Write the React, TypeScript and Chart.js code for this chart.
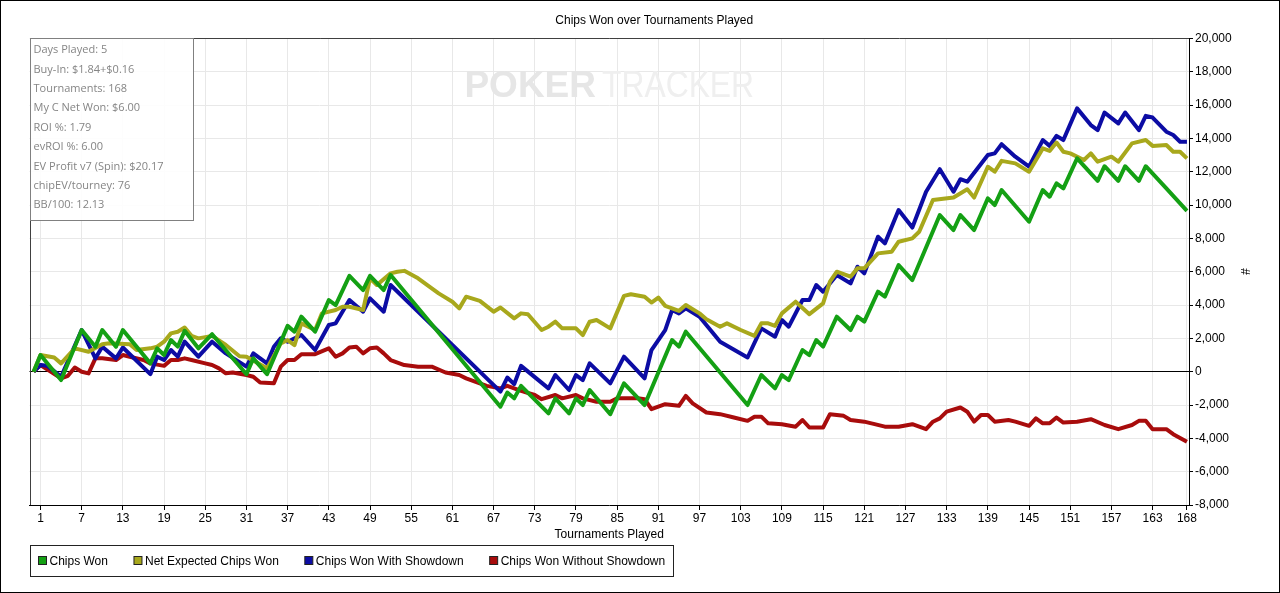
import { useEffect, useRef } from "react";
import { Chart, registerables } from "chart.js";

Chart.register(...registerables);

// turning points of each series: [tournament, chips]
const chipsWon: [number, number][] = [
  [0, 0], [1, 1000], [4, -500], [7, 2500], [9, 1500], [10, 2500], [12, 1500], [13, 2500], [17, 500], [18, 1400],
  [19, 1000], [20, 1900], [21, 1500], [22, 2450], [24, 1400], [26, 2250], [31, -150], [32, 800], [34, -150], [37, 2750],
  [38, 2400], [39, 3300], [41, 2400], [43, 4300], [44, 4000], [46, 5750], [48, 4900], [49, 5750], [51, 4900], [52, 5800],
  [68, -2100], [69, -1250], [70, -1600], [71, -850], [75, -2500], [76, -1600], [78, -2500], [79, -1600], [80, -2000], [81, -1100],
  [84, -2550], [86, -700], [89, -2000], [93, 1900], [94, 1500], [95, 2400], [104, -2000], [106, -200], [108, -1000], [109, -200],
  [110, -500], [112, 1300], [113, 1000], [114, 1900], [115, 1500], [117, 3300], [119, 2500], [120, 3300], [121, 3000], [123, 4800],
  [124, 4500], [126, 6400], [128, 5500], [132, 9400], [134, 8500], [135, 9400], [137, 8500], [139, 10400], [140, 10000], [141, 10900],
  [145, 9000], [147, 10900], [148, 10500], [149, 11300], [150, 11000], [152, 12800], [155, 11450], [156, 12330], [158, 11450], [159, 12330],
  [161, 11450], [162, 12330], [165, 11000], [168, 9650],
];

const netExpected: [number, number][] = [
  [0, 0], [1, 1000], [3, 850], [4, 500], [6, 1400], [8, 1200], [10, 1650], [11, 1700], [14, 1650], [15, 1300],
  [17, 1400], [18, 1500], [19, 1800], [20, 2300], [21, 2400], [22, 2650], [23, 2150], [24, 2000], [26, 2150], [28, 1600],
  [30, 930], [31, 900], [34, 200], [36, 1700], [37, 1900], [38, 1600], [39, 2900], [41, 2500], [42, 3500], [44, 3700],
  [45, 3900], [46, 3900], [48, 3700], [49, 5600], [50, 5200], [52, 5900], [53, 6000], [54, 6050], [56, 5600], [58, 5000],
  [59, 4700], [61, 4200], [62, 3800], [63, 4500], [65, 4250], [67, 3600], [68, 3850], [70, 3200], [71, 3500], [72, 3450],
  [74, 2500], [75, 2700], [76, 3000], [77, 2600], [79, 2600], [80, 2200], [81, 3000], [82, 3100], [84, 2600], [86, 4550],
  [87, 4650], [89, 4500], [90, 4150], [91, 4450], [92, 3950], [94, 3650], [95, 4000], [97, 3500], [98, 3150], [100, 2700],
  [101, 2900], [103, 2500], [105, 2150], [106, 2900], [107, 2900], [108, 2750], [109, 3500], [111, 4200], [113, 3450], [115, 4100],
  [116, 5400], [117, 6000], [119, 5700], [120, 6200], [121, 6200], [123, 7100], [125, 7200], [126, 7800], [128, 8000], [129, 8400],
  [131, 10300], [134, 10450], [136, 10950], [137, 10450], [139, 12300], [140, 12000], [141, 12650], [143, 12500], [145, 12000], [147, 13400],
  [148, 13250], [149, 13750], [150, 13200], [151, 13100], [153, 12700], [154, 13100], [155, 12600], [157, 12900], [158, 12600], [160, 13700],
  [162, 13900], [163, 13550], [165, 13600], [166, 13200], [167, 13200], [168, 12800],
];

const withShowdown: [number, number][] = [
  [0, 0], [1, 400], [2, 350], [4, -300], [7, 2500], [9, 800], [10, 1500], [12, 800], [13, 1450], [17, -150],
  [18, 900], [19, 700], [20, 1300], [21, 900], [22, 1800], [24, 900], [26, 1800], [28, 1100], [31, 300], [32, 1100],
  [34, 500], [35, 1500], [36, 2000], [37, 1800], [39, 2200], [41, 1300], [43, 2800], [44, 2900], [46, 4300], [48, 3600],
  [49, 4400], [51, 3600], [52, 5200], [68, -1200], [69, -350], [70, -750], [71, 350], [75, -1000], [76, -200], [78, -1100],
  [79, -200], [80, -500], [81, 500], [84, -700], [86, 900], [89, -400], [90, 1300], [92, 2500], [93, 3700], [94, 3500],
  [95, 3800], [97, 3300], [100, 1800], [104, 850], [106, 2600], [108, 2100], [109, 3100], [110, 2700], [112, 4300], [113, 4300],
  [114, 5200], [115, 4800], [117, 5800], [119, 5300], [120, 6300], [121, 5900], [123, 8100], [124, 7700], [126, 9700], [128, 8650],
  [130, 10800], [132, 12150], [134, 10800], [135, 11550], [136, 11400], [139, 13000], [140, 13100], [141, 13650], [143, 12900], [145, 12300],
  [147, 13900], [148, 13550], [149, 14150], [150, 13900], [152, 15800], [154, 14800], [155, 14500], [156, 15550], [158, 14900], [159, 15550],
  [161, 14500], [162, 15350], [163, 15250], [165, 14400], [166, 14200], [167, 13800], [168, 13800],
];

const withoutShowdown: [number, number][] = [
  [0, 0], [1, 400], [4, -400], [5, -250], [6, 250], [7, 0], [8, -100], [9, 800], [10, 800], [12, 700],
  [13, 1000], [14, 900], [16, 700], [17, 500], [19, 350], [20, 700], [21, 700], [22, 800], [23, 700], [25, 500],
  [26, 400], [27, 200], [28, -100], [29, -50], [31, -200], [32, -300], [33, -650], [35, -700], [36, 300], [37, 700],
  [38, 700], [39, 1050], [41, 1050], [43, 1400], [44, 900], [45, 1100], [46, 1450], [47, 1500], [48, 1100], [49, 1400],
  [50, 1450], [51, 1100], [52, 700], [54, 400], [56, 300], [58, 300], [60, -50], [62, -200], [63, -400], [65, -700],
  [66, -850], [68, -1000], [69, -850], [70, -1000], [71, -1150], [73, -1400], [74, -1650], [76, -1400], [77, -1600], [79, -1400],
  [80, -1600], [82, -1800], [84, -1800], [85, -1600], [87, -1600], [88, -1600], [89, -1650], [90, -2250], [92, -1950], [94, -2050],
  [95, -1450], [96, -1900], [98, -2450], [100, -2550], [102, -2750], [104, -2950], [105, -2700], [106, -2700], [107, -3100], [109, -3150],
  [111, -3300], [112, -2900], [113, -3350], [115, -3350], [116, -2550], [118, -2650], [119, -2900], [121, -3000], [124, -3300], [126, -3300],
  [128, -3150], [130, -3450], [131, -3000], [132, -2800], [133, -2400], [135, -2150], [136, -2400], [137, -3000], [138, -2600], [139, -2600],
  [140, -3000], [142, -2900], [143, -3000], [145, -3250], [146, -2800], [147, -3100], [148, -3100], [149, -2750], [150, -3050], [152, -3000],
  [154, -2850], [156, -3200], [158, -3450], [160, -3200], [161, -2950], [162, -2950], [163, -3450], [165, -3450], [166, -3750], [168, -4200],
];

const seriesLabels = ["Chips Won", "Net Expected Chips Won", "Chips Won With Showdown", "Chips Won Without Showdown"];
const seriesColors = ["#14a014", "#a8a81c", "#0c0ca4", "#a80c0c"];

const xTicks = [1, 7, 13, 19, 25, 31, 37, 43, 49, 55, 61, 67, 73, 79, 85, 91, 97, 103, 109, 115, 121, 127, 133, 139, 145, 151, 157, 163, 168];

const statsLines = [
  "Days Played: 5",
  "Buy-In: $1.84+$0.16",
  "Tournaments: 168",
  "My C Net Won: $6.00",
  "ROI %: 1.79",
  "evROI %: 6.00",
  "EV Profit v7 (Spin): $20.17",
  "chipEV/tourney: 76",
  "BB/100: 12.13",
];

const FONT = "'Liberation Sans', Arial, sans-serif";

const decorPlugin = {
  id: "decor",
  beforeDatasetsDraw(chart: Chart) {
    const { ctx, chartArea } = chart;
    const { left, top, right, bottom } = chartArea;
    ctx.save();
    // watermark
    const cx = (left + right) / 2;
    ctx.textBaseline = "middle";
    ctx.textAlign = "left";
    ctx.font = `bold 37px ${FONT}`;
    const w1 = ctx.measureText("POKER").width;
    ctx.font = `37px ${FONT}`;
    const squeeze = 0.86;
    const w2 = ctx.measureText("TRACKER").width * squeeze;
    const start = cx - (w1 + 6 + w2) / 2;
    const wy = top + 48;
    ctx.font = `bold 37px ${FONT}`;
    ctx.fillStyle = "#e6e6e6";
    ctx.fillText("POKER", start, wy);
    ctx.font = `37px ${FONT}`;
    ctx.fillStyle = "#efefef";
    ctx.save();
    ctx.translate(start + w1 + 6, wy);
    ctx.scale(squeeze, 1);
    ctx.fillText("TRACKER", 0, 0);
    ctx.restore();
    // plot frame top / left
    ctx.strokeStyle = "#404040";
    ctx.lineWidth = 1;
    ctx.beginPath();
    ctx.moveTo(Math.round(left) + 0.5, Math.round(bottom));
    ctx.lineTo(Math.round(left) + 0.5, Math.round(top) + 0.5);
    ctx.lineTo(Math.round(right), Math.round(top) + 0.5);
    ctx.stroke();
    ctx.restore();
  },
  afterDraw(chart: Chart) {
    const { ctx, chartArea } = chart;
    const { left, top } = chartArea;
    ctx.save();
    // stats box
    const bx = Math.round(left) + 0.5;
    const by = Math.round(top) + 0.5;
    ctx.fillStyle = "rgba(255,255,255,0.9)";
    ctx.fillRect(bx, by, 163, 182);
    ctx.strokeStyle = "#808080";
    ctx.lineWidth = 1;
    ctx.strokeRect(bx, by, 163, 182);
    ctx.fillStyle = "#858585";
    ctx.font = "11px 'Open Sans', sans-serif";
    ctx.textAlign = "left";
    ctx.textBaseline = "middle";
    statsLines.forEach((line, i) => {
      ctx.fillText(line, bx + 3, by + 11.5 + i * 19.4);
    });

    // legend
    ctx.font = `12px ${FONT}`;
    const ly = Math.round(chart.height - 47) + 0.5;
    const cy = ly + 15;
    let x = bx + 8;
    seriesLabels.forEach((label, i) => {
      ctx.fillStyle = seriesColors[i];
      ctx.fillRect(x, cy - 4, 8, 8);
      ctx.strokeStyle = "#222";
      ctx.strokeRect(x, cy - 4, 8, 8);
      ctx.fillStyle = "#000";
      ctx.fillText(label, x + 11, cy + 1);
      x += 11 + ctx.measureText(label).width + (i < seriesLabels.length - 1 ? 26 : 8);
    });
    ctx.strokeStyle = "#222";
    ctx.strokeRect(bx, ly, Math.round(x - bx), 31);
    ctx.restore();
  },
};

function ChipsChart() {
  const chartRef = useRef<HTMLCanvasElement>(null);
  const chartInstance = useRef<Chart | null>(null);

  useEffect(() => {
    document.body.style.margin = "0";
    if (!chartRef.current) return;
    if (chartInstance.current) chartInstance.current.destroy();

    const series = [chipsWon, netExpected, withShowdown, withoutShowdown];

    chartInstance.current = new Chart(chartRef.current, {
      type: "line",
      data: {
        datasets: series.map((pts, i) => ({
          label: seriesLabels[i],
          data: pts.map(([x, y]) => ({ x, y })),
          borderColor: seriesColors[i],
          backgroundColor: seriesColors[i],
          borderWidth: 4,
          pointRadius: 0,
          tension: 0,
          borderJoinStyle: "round" as const,
          fill: false,
        })),
      },
      options: {
        animation: false,
        responsive: true,
        maintainAspectRatio: false,
        layout: { padding: { left: 28.5, top: 0, right: 0, bottom: 47 } },
        plugins: {
          legend: { display: false },
          tooltip: { enabled: false },
          title: {
            display: true,
            text: "Chips Won over Tournaments Played",
            color: "#000",
            font: { family: FONT, size: 12, weight: "normal" },
            padding: { top: 12, bottom: 11 },
          },
        },
        scales: {
          x: {
            type: "linear",
            min: -0.6,
            max: 168.3,
            afterBuildTicks: (scale: any) => {
              scale.ticks = xTicks.map((v) => ({ value: v }));
            },
            afterFit: (scale: any) => {
              scale.height = 40;
            },
            ticks: {
              autoSkip: false,
              maxRotation: 0,
              color: "#000",
              padding: 1,
              font: { family: FONT, size: 12 },
            },
            grid: { color: "#e8e8e8", tickColor: "#000", tickLength: 5 },
            border: { color: "#000" },
            title: {
              display: true,
              text: "Tournaments Played",
              color: "#000",
              font: { family: FONT, size: 12 },
              padding: { top: 0, bottom: 3 },
            },
          },
          y: {
            position: "right",
            min: -8000,
            max: 20000,
            afterFit: (scale: any) => {
              scale.width = 90;
            },
            ticks: {
              stepSize: 2000,
              color: "#000",
              padding: 2,
              font: { family: FONT, size: 12 },
              callback: (v: any) => Number(v).toLocaleString("en-US"),
            },
            grid: {
              color: (c: any) => (c.tick && c.tick.value === 0 ? "#000" : "#e8e8e8"),
              tickColor: "#000",
              tickLength: 4,
            },
            border: { color: "#000" },
            title: {
              display: true,
              text: "#",
              color: "#000",
              font: { family: FONT, size: 12 },
              padding: { top: 27, bottom: 0 },
            },
          },
        },
      },
      plugins: [decorPlugin],
    });

    return () => {
      if (chartInstance.current) {
        chartInstance.current.destroy();
        chartInstance.current = null;
      }
    };
  }, []);

  return (
    <div style={{ width: 1280, height: 593, border: "1px solid #000", boxSizing: "border-box", background: "#fff" }}>
      <div style={{ position: "relative", width: 1278, height: 591 }}>
        <canvas ref={chartRef} />
      </div>
    </div>
  );
}

export default function App() {
  return <ChipsChart />;
}
